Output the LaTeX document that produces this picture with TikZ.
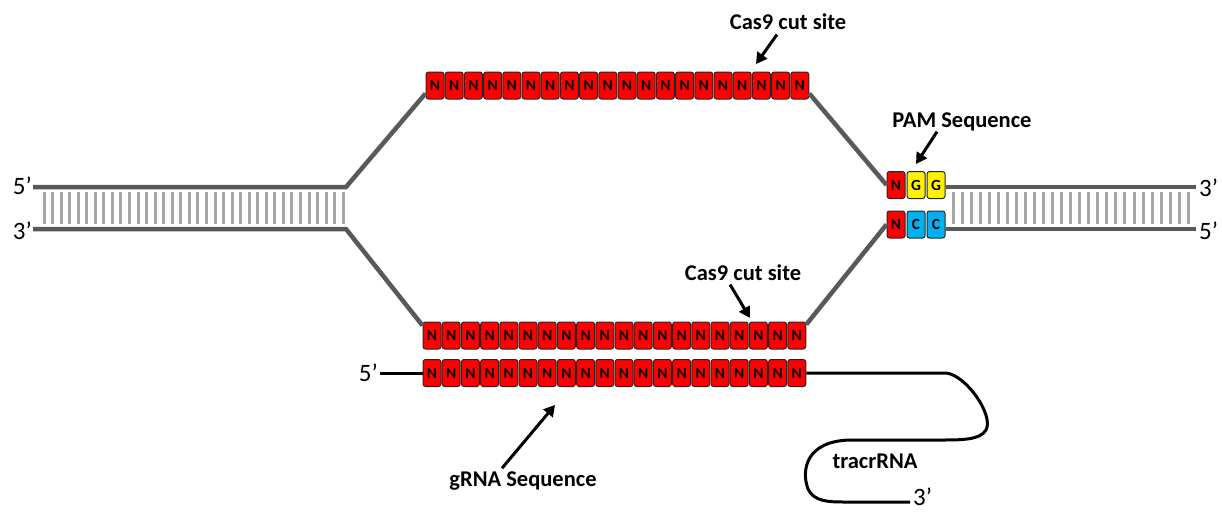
\documentclass[tikz,border=0pt]{standalone}
\usepackage{fontspec}
\setmainfont{Carlito}
\usetikzlibrary{arrows.meta,positioning}
\definecolor{strandgray}{HTML}{595959}
\definecolor{runggray}{HTML}{A6A6A6}
\definecolor{pamblue}{HTML}{00B0F0}

\begin{document}
\begin{tikzpicture}[
      x=1pt, y=-1pt,
      >={Triangle[width=12pt,length=11pt]},
      every node/.style={font=\fontsize{25}{27}\selectfont},
      base/.style={rectangle, rounded corners=2.5pt, draw=black!85, line width=1pt,
            minimum width=18pt, minimum height=27pt, inner sep=0pt,
            font=\fontsize{15.5}{15.5}\selectfont\bfseries},
      nbase/.style={base, fill=red},
      gbase/.style={base, fill=yellow},
      cbase/.style={base, fill=pamblue},
      strand/.style={line width=4.5pt, draw=strandgray},
      rung/.style={line width=3pt, draw=runggray},
      tag/.style={font=\fontsize{22.5}{24}\selectfont\bfseries},
      pointer/.style={->, line width=3pt},
      rna/.style={line width=3pt}
]
\useasboundingbox (0,0) rectangle (1222,512);

% protospacer, target strand and gRNA
\foreach \i in {1,...,20} {
  \node[nbase] (top\i) at (435+19.2*\i-19.2, 85.5) {N};
  \node[nbase] (tgt\i) at (432+19.2*\i-19.2, 335.5) {N};
  \node[nbase] (grna\i) at (432+19.2*\i-19.2, 373) {N};
}

% PAM and its complement
\node[nbase] (pamN) at (896,185) {N};
\node[gbase, right=1pt of pamN] (pamG1) {G};
\node[gbase, right=1pt of pamG1] (pamG2) {G};
\node[nbase] (comN) at (896,224.5) {N};
\node[cbase, right=1pt of comN] (comC1) {C};
\node[cbase, right=1pt of comC1] (comC2) {C};

% duplex ends
\coordinate (l5) at (33,187);
\coordinate (l5end) at (346,187);
\coordinate (l3) at (33,229);
\coordinate (l3end) at (346,229);
\coordinate (r3) at (1196,187);
\coordinate (r5) at (1196,229);
\node[anchor=east, inner sep=1pt] (l5lab) at (33,186) {5’};
\node[anchor=east, inner sep=1pt] (l3lab) at (33,231) {3’};
\node[anchor=west, inner sep=1pt] (r3lab) at (1198,188) {3’};
\node[anchor=west, inner sep=1pt] (r5lab) at (1198,231) {5’};

\foreach \k in {0,...,35}
  \draw[rung] (44+8.55*\k,192) -- ++(0,32);
\foreach \k in {0,...,26}
  \draw[rung] (953+9.05*\k,192) -- ++(0,32);

\draw[strand] (l5) -- (l5end) -- ([yshift=6pt]top1.south west);
\draw[strand] (l3) -- (l3end) -- ([yshift=-4pt]tgt1.north west);
\draw[strand] ([yshift=6pt]top20.south east) -- (pamN.west);
\draw[strand] ([yshift=-3pt]tgt20.north east) -- (comN.west);
\draw[strand] (pamG2.east |- r3) -- (r3);
\draw[strand] (comC2.east |- r5) -- (r5);

% gRNA tail and tracrRNA
\coordinate (g5) at (380,373);
\coordinate (tr3) at (910,502);
\node[anchor=east, inner sep=1pt] (g5lab) at (379,373) {5’};
\node[anchor=west, inner sep=1pt] (tr3lab) at (912,497) {3’};
\draw[rna] (g5) -- (grna1.west);
\draw[rna] (grna20.east) -- (946,373)
      .. controls (966,375) and (994,415) .. (986,430)
      .. controls (980,440) and (962,440) .. (940,440) -- (850,440)
      .. controls (806,441) and (801,470) .. (808,489)
      .. controls (814,502) and (830,502) .. (845,502) -- (tr3);
\node[tag] (tracr) at (875,461) {tracrRNA};

% labels
\node[tag] (cut1) at (788,22) {Cas9 cut site};
\node[tag] (cut2) at (743,273) {Cas9 cut site};
\node[tag] (pam) at (962,122) {PAM Sequence};
\node[tag] (guide) at (523,481) {gRNA Sequence};
\coordinate (cut1tip) at (756,64);
\coordinate (cut2tip) at (750,318);
\coordinate (pamtip) at (916,164);
\coordinate (guidetip) at (555,405);

\draw[pointer] ([xshift=-11pt,yshift=-1pt]cut1.south) -- (cut1tip);
\draw[pointer] ([xshift=-13pt,yshift=0pt]cut2.south) -- (cut2tip);
\draw[pointer] ([xshift=-25pt,yshift=3pt]pam.south) -- (pamtip);
\draw[pointer] ([xshift=-21pt,yshift=0pt]guide.north) -- (guidetip);
\end{tikzpicture}
\end{document}
